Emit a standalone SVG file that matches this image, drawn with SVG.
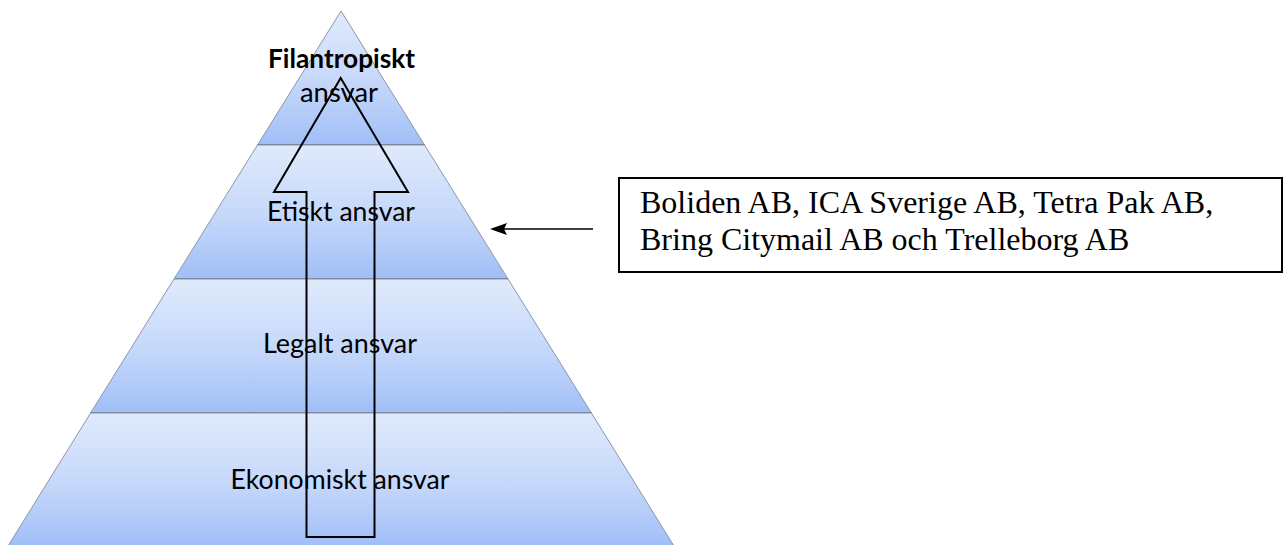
<svg xmlns="http://www.w3.org/2000/svg" width="1285" height="545" viewBox="0 0 1285 545">
  <defs>
    <linearGradient id="layerGrad" x1="0" y1="0" x2="0" y2="1">
      <stop offset="0" stop-color="#e0eafc"/>
      <stop offset="0.55" stop-color="#c4d7fa"/>
      <stop offset="1" stop-color="#a0bff7"/>
    </linearGradient>
    <style>
      .layer { fill: url(#layerGrad); stroke: #8c96a8; stroke-width: 1; }
      .sep { stroke: #6f7d95; stroke-width: 2; }
      .lbl { font-family: Lato, "Open Sans", "DejaVu Sans", sans-serif; font-size: 27px; fill: #000; text-anchor: middle; }
      .bold { font-weight: bold; }
      .boxtxt { font-family: "Liberation Serif", "Times New Roman", serif; font-size: 32px; fill: #000; }
      .box { fill: #fff; stroke: #000; stroke-width: 2; }
      .conn { stroke: #000; stroke-width: 1.6; fill: none; }
      .blockarrow { fill: none; stroke: #000; stroke-width: 2; stroke-linejoin: miter; }
    </style>
  </defs>

  <rect width="1285" height="545" fill="#fff"/>

  <g id="layer-filantropiskt">
    <polygon class="layer" points="341,11 424.5,145 257.5,145"/>
    <line class="sep" x1="257.5" y1="145" x2="424.5" y2="145"/>
  </g>
  <g id="layer-etiskt">
    <polygon class="layer" points="257.5,145 424.5,145 508,279 174,279"/>
    <line class="sep" x1="174" y1="279" x2="508" y2="279"/>
  </g>
  <g id="layer-legalt">
    <polygon class="layer" points="174,279 508,279 591.4,413 90.6,413"/>
    <line class="sep" x1="90.6" y1="413" x2="591.4" y2="413"/>
  </g>
  <g id="layer-ekonomiskt">
    <polygon class="layer" points="90.6,413 591.4,413 674,546 8,546"/>
  </g>

  <g id="labels">
    <text class="lbl bold" x="341.5" y="68" textLength="147" lengthAdjust="spacingAndGlyphs">Filantropiskt</text>
    <text class="lbl" x="339" y="102" textLength="78" lengthAdjust="spacingAndGlyphs">ansvar</text>
    <text class="lbl" x="341" y="221" textLength="148" lengthAdjust="spacingAndGlyphs">Etiskt ansvar</text>
    <text class="lbl" x="340" y="353" textLength="154" lengthAdjust="spacingAndGlyphs">Legalt ansvar</text>
    <text class="lbl" x="340" y="489" textLength="219" lengthAdjust="spacingAndGlyphs">Ekonomiskt ansvar</text>
  </g>

  <g id="companies-box">
    <rect class="box" x="619" y="178" width="663" height="94"/>
    <text class="boxtxt" x="640" y="213">Boliden AB, ICA Sverige AB, Tetra Pak AB,</text>
    <text class="boxtxt" x="640" y="250">Bring Citymail AB och Trelleborg AB</text>
  </g>

  <g id="connectors">
    <polygon id="progress-arrow" class="blockarrow" points="340.7,78 408,192 374.5,192 374.5,537 306.5,537 306.5,192 274,192"/>
    <line class="conn" x1="593" y1="229" x2="502" y2="229"/>
    <path d="M490,229 L507,223 L504,229 L507,235 Z" fill="#000"/>
  </g>
</svg>
